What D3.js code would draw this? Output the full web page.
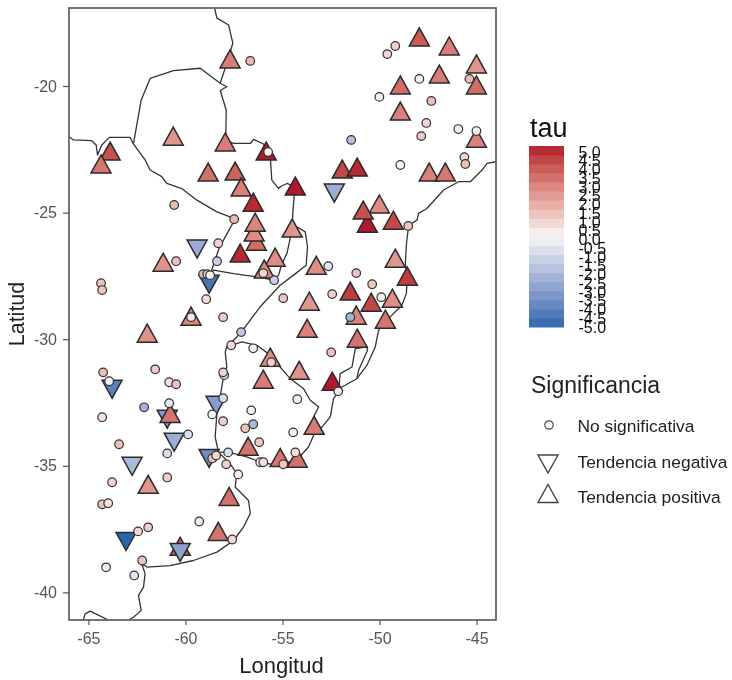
<!DOCTYPE html>
<html>
<head>
<meta charset="utf-8">
<script src="https://cdn.jsdelivr.net/npm/d3@7"></script>
<style>
  html, body { margin: 0; padding: 0; background: #fff; }
  svg { display: block; filter: blur(0.45px); }
  svg text { font-family: "Liberation Sans", Arial, sans-serif; }
</style>
</head>
<body>
<svg id="chart" width="732" height="680"></svg>
<script>
// lon, lat, tau
var circlesUnder = [[-45.37,-19.72,1.5]];
var upMarks = [
  [-57.70,-18.97,3.0],[-60.63,-22.02,2.4],[-57.95,-22.25,3.0],[-63.88,-22.61,4.0],[-64.35,-23.12,3.1],
  [-55.84,-22.61,5.0],[-58.83,-23.44,3.3],[-57.44,-23.40,3.6],[-57.13,-24.03,2.9],[-56.51,-24.63,4.8],
  [-56.35,-26.17,3.4],[-56.46,-25.81,2.6],[-56.41,-25.42,2.8],[-57.18,-26.64,4.8],[-55.38,-26.80,2.6],
  [-55.94,-27.27,2.7],[-61.15,-27.00,2.5],[-59.71,-29.13,2.8],[-47.95,-18.10,3.8],[-46.41,-18.46,3.0],
  [-45.01,-19.17,2.4],[-46.92,-19.57,3.0],[-48.93,-20.00,3.4],[-45.01,-20.00,3.4],[-48.93,-21.03,2.9],
  [-45.01,-22.10,2.9],[-51.92,-23.32,4.2],[-51.15,-23.24,4.8],[-47.44,-23.44,2.9],[-46.61,-23.44,3.1],
  [-54.34,-23.99,5.0],[-50.01,-24.70,2.6],[-50.63,-25.46,5.0],[-50.84,-24.94,4.0],[-49.29,-25.34,4.2],
  [-54.50,-25.65,2.4],[-53.26,-27.12,2.6],[-49.19,-26.84,2.4],[-48.57,-27.55,4.4],[-51.51,-28.14,4.4],
  [-50.43,-28.58,4.2],[-49.34,-28.42,2.6],[-53.62,-28.54,2.4],[-51.20,-29.09,2.8],[-49.70,-29.25,3.2],
  [-61.97,-29.80,2.5],[-55.63,-30.75,2.6],[-55.99,-31.62,3.0],[-56.77,-34.27,3.2],[-55.12,-34.71,3.2],
  [-61.92,-35.77,2.4],[-57.75,-36.25,3.3],[-58.31,-37.63,3.2],[-60.27,-38.22,3.8],[-53.73,-29.61,2.9],
  [-51.15,-30.00,3.2],[-54.14,-31.27,2.5],[-52.44,-31.70,5.0],[-53.37,-33.44,3.0],[-54.24,-34.74,3.3]
];
var upMarksOnTop = [[-60.79,-32.97,3.2]];
var downMarks = [
  [-59.40,-26.40,-2.5],[-58.78,-27.79,-4.5],[-52.33,-24.19,-2.4],[-63.78,-31.94,-4.0],[-58.42,-32.57,-3.0],
  [-60.94,-33.12,-3.0],[-60.58,-34.03,-2.4],[-58.78,-34.67,-3.5],[-62.75,-34.98,-2.0],[-63.06,-37.95,-5.0],
  [-60.27,-38.38,-2.8]
];
var circleMarks = [
  [-56.66,-19.01,1.5],[-60.58,-24.70,1.5],[-57.49,-25.26,1.5],[-58.31,-26.21,0.9],[-58.37,-26.92,-1.3],
  [-60.48,-26.92,1.3],[-64.35,-27.79,1.3],[-64.29,-28.06,1.2],[-59.09,-27.43,1.5],[-58.88,-27.43,-1.2],
  [-58.73,-27.47,0.1],[-55.74,-22.61,0.2],[-58.93,-28.42,0.6],[-58.06,-29.13,1.0],[-55.99,-27.39,0.7],
  [-55.43,-27.67,-1.3],[-54.96,-28.38,1.2],[-59.71,-29.13,0.3],[-49.19,-18.42,1.0],[-49.60,-18.74,0.8],
  [-47.95,-19.72,0.2],[-50.01,-20.43,0.1],[-47.33,-20.59,1.4],[-47.59,-21.46,0.9],
  [-47.85,-21.98,1.1],[-45.94,-21.70,0.15],[-45.01,-21.78,0.1],[-51.46,-22.13,-1.8],[-45.63,-22.81,0.8],
  [-45.58,-23.08,1.4],[-48.93,-23.12,0.05],[-48.52,-25.53,1.2],[-52.64,-27.12,-0.6],[-51.20,-27.39,1.2],
  [-50.38,-27.83,1.2],[-49.91,-28.34,0.1],[-52.44,-28.22,1.0],[-51.51,-29.13,-2.2],[-57.13,-29.72,-1.5],
  [-57.64,-30.24,0.8],[-56.51,-30.36,0.3],[-55.58,-30.91,1.0],[-64.24,-31.31,1.4],[-63.93,-31.66,0.1],
  [-61.56,-31.19,1.1],[-60.84,-31.70,0.6],[-60.48,-31.78,1.3],[-58.00,-31.42,-1.0],[-58.06,-31.31,0.8],
  [-62.13,-32.69,-2.2],[-60.84,-32.53,-0.5],[-58.06,-32.33,-0.8],[-64.29,-33.08,0.5],[-56.61,-32.81,0.2],
  [-58.62,-32.97,-0.1],[-58.06,-33.24,1.0],[-56.51,-33.36,-2.0],[-56.92,-33.52,1.3],[-59.86,-33.76,-0.7],
  [-63.42,-34.15,1.3],[-56.20,-34.07,1.2],[-60.94,-34.51,-0.8],[-57.80,-34.47,-0.7],[-58.62,-34.71,1.3],
  [-58.42,-34.59,0.7],[-56.15,-34.86,0.1],[-55.99,-34.86,0.6],[-57.90,-34.94,1.0],[-57.28,-35.34,0.2],
  [-60.94,-35.46,1.0],[-63.78,-35.65,0.9],[-64.29,-36.52,1.3],[-63.98,-36.48,0.5],[-59.29,-37.20,0.3],
  [-61.92,-37.43,1.0],[-62.44,-37.59,0.8],[-57.59,-37.91,0.8],[-62.23,-38.74,1.2],[-64.09,-39.01,0.3],
  [-62.64,-39.33,-0.5],[-52.49,-30.52,1.3],[-54.24,-32.37,0.2],[-52.13,-32.06,0.3],[-54.45,-33.68,0.05],
  [-54.34,-34.47,0.6],[-54.96,-34.94,1.2]
];

// country outlines, lon/lat
var borderA = [[-66.03,-21.98],[-65.77,-22.13],[-64.83,-22.16],[-64.60,-22.33],[-64.53,-22.73],[-64.31,-22.33],[-63.92,-22.03],[-62.85,-22.03],[-62.68,-22.29]];
var borderB = [[-62.68,-22.29],[-62.28,-20.55],[-61.82,-19.70],[-60.62,-19.39],[-59.24,-19.30],[-58.21,-19.89],[-57.87,-20.03],[-58.21,-20.18],[-57.90,-20.95],[-57.92,-21.87],[-57.95,-22.13],[-57.52,-22.27],[-56.66,-22.27],[-56.49,-22.11],[-55.98,-22.29],[-55.63,-22.79],[-55.55,-23.72],[-55.20,-24.05],[-55.12,-23.98],[-54.77,-23.85],[-54.36,-23.98],[-54.47,-25.03],[-54.50,-25.65],[-54.77,-26.61],[-55.03,-27.01],[-55.20,-27.47],[-55.46,-27.67],[-56.32,-27.54],[-57.52,-27.41],[-58.55,-27.27],[-58.73,-27.47]];
var borderC = [[-58.50,-16.93],[-58.38,-17.32],[-57.78,-17.59],[-57.56,-18.31],[-57.87,-19.10],[-58.21,-19.89]];
var borderD = [[-62.68,-22.29],[-62.08,-22.92],[-61.82,-23.32],[-61.22,-23.58],[-60.96,-23.85],[-60.19,-24.05],[-59.41,-24.51],[-58.38,-24.97],[-57.70,-25.17],[-57.52,-25.36],[-57.95,-25.96],[-58.30,-26.48],[-58.59,-27.14],[-58.73,-27.47]];
var borderE = [[-54.50,-25.65],[-54.26,-25.56],[-53.83,-25.76],[-53.71,-26.35],[-53.78,-27.08],[-54.43,-27.47],[-55.12,-27.87],[-56.15,-28.72],[-56.92,-29.51],[-57.35,-29.91],[-57.87,-30.30],[-57.95,-30.50],[-57.87,-31.10],[-58.04,-31.49],[-58.21,-32.28],[-58.38,-32.94],[-58.47,-33.86],[-58.30,-34.46]];
var borderF = [[-57.87,-30.30],[-57.09,-30.11],[-56.32,-30.24],[-55.63,-30.63],[-55.12,-31.10],[-54.60,-31.56],[-53.92,-31.95],[-53.57,-32.41],[-53.14,-32.68],[-53.40,-33.07]];
var coastG = [[-43.98,-22.99],[-44.46,-23.06],[-44.72,-23.32],[-45.32,-23.78],[-45.93,-23.78],[-46.70,-24.11],[-47.56,-24.84],[-47.99,-25.03],[-48.07,-25.30],[-48.50,-25.49],[-48.62,-26.29],[-48.67,-27.01],[-48.57,-27.54],[-48.62,-28.20],[-48.85,-28.66],[-49.45,-29.12],[-49.71,-29.25],[-50.05,-29.65],[-50.22,-30.30],[-50.65,-31.03],[-51.17,-31.56],[-51.94,-31.89],[-52.37,-32.35],[-52.54,-33.07],[-52.97,-33.47],[-53.40,-33.80],[-53.66,-34.26],[-54.26,-34.76],[-55.29,-34.98],[-56.15,-34.85],[-56.84,-34.65],[-57.78,-34.46],[-58.30,-34.46]];
var lagoonH = [[-52.11,-32.04],[-52.03,-31.36],[-51.42,-31.10],[-51.25,-30.37],[-50.65,-30.30],[-50.62,-30.44],[-51.08,-31.23],[-51.17,-31.56]];
var coastI = [[-58.30,-34.46],[-57.70,-34.92],[-57.35,-35.31],[-57.44,-35.84],[-56.75,-36.37],[-56.66,-36.89],[-57.01,-37.42],[-57.52,-37.95],[-58.38,-38.41],[-59.59,-38.74],[-60.79,-38.94],[-61.99,-39.00],[-62.25,-38.87],[-62.08,-39.26],[-62.16,-39.79],[-62.42,-40.12],[-62.28,-40.71],[-62.68,-40.98],[-62.94,-41.09]];
var coastJ = [[-63.97,-41.09],[-64.91,-40.74],[-65.17,-40.85],[-65.26,-41.09]];
var borders = [borderA, borderB, borderC, borderD, borderE, borderF, coastG, lagoonH, coastI, coastJ];

var lonTicks = [-65, -60, -55, -50, -45];
var latTicks = [-20, -25, -30, -35, -40];
var tauLabels = ["-5.0","-4.5","-4.0","-3.5","-3.0","-2.5","-2.0","-1.5","-1.0","-0.5","0.0","0.5","1.0","1.5","2.0","2.5","3.0","3.5","4.0","4.5","5.0"];
var tauValues = [-5,-4.5,-4,-3.5,-3,-2.5,-2,-1.5,-1,-0.5,0,0.5,1,1.5,2,2.5,3,3.5,4,4.5,5];
var sigLabels = ["No significativa", "Tendencia negativa", "Tendencia positiva"];

var svg = d3.select("#chart"),
    margin = {top: 8, right: 236, bottom: 60, left: 69},
    width = 427,
    height = 612;

var x = d3.scaleLinear().domain([-66, -44]).range([0, width]);
var y = d3.scaleLinear().domain([-41.09, -16.92]).range([height, 0]);

var color = d3.scaleLinear()
    .domain([-5, 0, 5])
    .range(["#2b66ad", "#f7f7f7", "#b2182b"])
    .interpolate(d3.interpolateLab);

var g = svg.append("g").attr("transform", "translate(" + margin.left + "," + margin.top + ")");

svg.append("clipPath").attr("id", "panel-clip")
    .append("rect").attr("width", width).attr("height", height);

var line = d3.line().x(function(d) { return x(d[0]); }).y(function(d) { return y(d[1]); });

g.append("g")
    .attr("clip-path", "url(#panel-clip)")
    .selectAll("path")
    .data(borders)
    .enter().append("path")
    .attr("d", line)
    .attr("fill", "none")
    .attr("stroke", "#333")
    .attr("stroke-width", 1.3)
    .attr("stroke-linejoin", "round");

// triangle outline is drawn about the point, a bit over half way down
function upPath(s) { return "M0," + (-10 * s) + "L" + (10 * s) + "," + (8 * s) + "L" + (-10 * s) + "," + (8 * s) + "Z"; }
function downPath(s) { return "M0," + (10 * s) + "L" + (10 * s) + "," + (-8 * s) + "L" + (-10 * s) + "," + (-8 * s) + "Z"; }

function drawTriangles(data, shape) {
    g.append("g").selectAll("path")
        .data(data)
        .enter().append("path")
        .attr("transform", function(d) { return "translate(" + x(d[0]) + "," + y(d[1]) + ")"; })
        .attr("d", shape(1))
        .attr("fill", function(d) { return color(d[2]); })
        .attr("stroke", "#2a2a2a")
        .attr("stroke-width", 1.5)
        .attr("stroke-linejoin", "miter");
}

function drawCircles(data) {
    g.append("g").selectAll("circle")
        .data(data)
        .enter().append("circle")
        .attr("cx", function(d) { return x(d[0]); })
        .attr("cy", function(d) { return y(d[1]); })
        .attr("r", 4.3)
        .attr("fill", function(d) { return color(d[2]); })
        .attr("stroke", "#333")
        .attr("stroke-width", 1.2);
}

drawCircles(circlesUnder);
drawTriangles(upMarks, upPath);
drawTriangles(downMarks, downPath);
drawTriangles(upMarksOnTop, upPath);
drawCircles(circleMarks);

// panel border + axes
g.append("rect")
    .attr("width", width)
    .attr("height", height)
    .attr("fill", "none")
    .attr("stroke", "#666")
    .attr("stroke-width", 1.8);

var xAxis = g.append("g")
    .attr("transform", "translate(0," + height + ")")
    .call(d3.axisBottom(x).tickValues(lonTicks).tickSize(5).tickPadding(8).tickFormat(function(d) { return String(d); }));
var yAxis = g.append("g")
    .call(d3.axisLeft(y).tickValues(latTicks).tickSize(6).tickPadding(6).tickFormat(function(d) { return String(d); }));

[xAxis, yAxis].forEach(function(a) {
    a.select(".domain").remove();
    a.selectAll("line").attr("stroke", "#555").attr("stroke-width", 1.2);
    a.selectAll("text").attr("fill", "#555").style("font-size", "16px").style("font-family", "Liberation Sans");
});

svg.append("text").attr("x", 281.5).attr("y", 673).attr("text-anchor", "middle")
    .attr("fill", "#222").style("font-size", "22px").text("Longitud");
svg.append("text").attr("transform", "translate(24,314) rotate(-90)").attr("text-anchor", "middle")
    .attr("fill", "#222").style("font-size", "21.5px").text("Latitud");

// colour legend
svg.append("text").attr("x", 530).attr("y", 137).attr("fill", "#111").style("font-size", "27px").text("tau");

var barTop = 146, barBottom = 327, barLeft = 529, barWidth = 35;
var barScale = d3.scaleLinear().domain([-5, 5]).range([barBottom, barTop]);
var labelScale = d3.scaleLinear().domain([-5, 5]).range([327, 152]);

var bins = d3.range(20).map(function(i) { return -5 + i * 0.5; });
svg.append("g").selectAll("rect")
    .data(bins)
    .enter().append("rect")
    .attr("x", barLeft)
    .attr("y", function(d) { return barScale(d + 0.5); })
    .attr("width", barWidth)
    .attr("height", function(d) { return barScale(d) - barScale(d + 0.5) + 0.5; })
    .attr("fill", function(d) { return color(d + 0.25); });

svg.append("g").selectAll("text")
    .data(tauValues)
    .enter().append("text")
    .attr("x", 578.5)
    .attr("y", function(d) { return labelScale(d) + 5.5; })
    .attr("fill", "#111")
    .style("font-size", "16px")
    .text(function(d, i) { return tauLabels[i]; });

// shape legend
svg.append("text").attr("x", 531).attr("y", 393).attr("fill", "#222").style("font-size", "23px").text("Significancia");

svg.append("g").selectAll("text")
    .data(sigLabels)
    .enter().append("text")
    .attr("x", 577.5)
    .attr("y", function(d, i) { return 432 + i * 35.5; })
    .attr("fill", "#222")
    .style("font-size", "17.4px")
    .text(function(d) { return d; });

svg.append("circle").attr("cx", 549).attr("cy", 425).attr("r", 4.2).attr("fill", "#fff").attr("stroke", "#444").attr("stroke-width", 1.2);
svg.append("path").attr("transform", "translate(548,463)").attr("d", downPath(1)).attr("fill", "#fff").attr("stroke", "#444").attr("stroke-width", 1.4);
svg.append("path").attr("transform", "translate(548,494.5)").attr("d", upPath(1)).attr("fill", "#fff").attr("stroke", "#444").attr("stroke-width", 1.4);
</script>
</body>
</html>
